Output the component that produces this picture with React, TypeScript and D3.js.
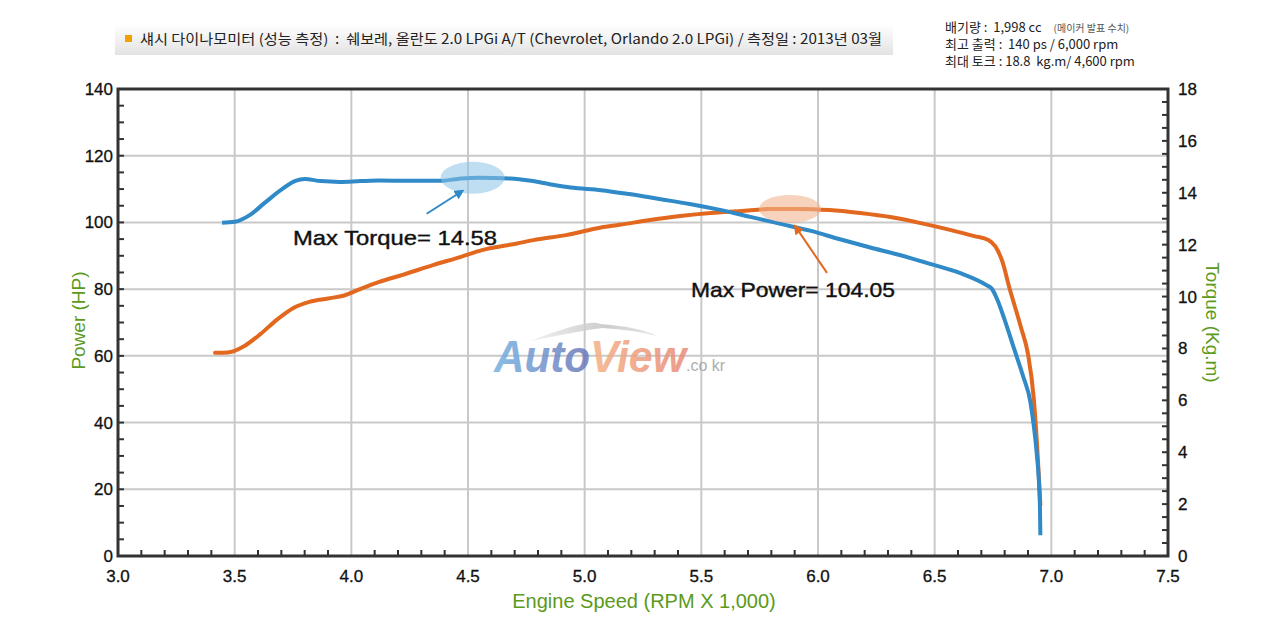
import * as d3 from "d3";

// engine speed (x1000 rpm) and torque (kg.m) — blue, right axis
const torqueRpm = [3.446, 3.5, 3.566, 3.63, 3.7, 3.76, 3.8, 3.87, 3.95, 4.04, 4.12, 4.25, 4.38, 4.47, 4.55, 4.68, 4.77, 4.85, 4.94, 5.07, 5.19, 5.32, 5.45, 5.58, 5.71, 5.84, 5.97, 6.09, 6.22, 6.35, 6.48, 6.61, 6.72, 6.745, 6.77, 6.8, 6.84, 6.88, 6.91, 6.925, 6.937, 6.951, 6.953];
const torqueKgm = [12.84, 12.88, 13.15, 13.62, 14.12, 14.46, 14.53, 14.45, 14.42, 14.45, 14.47, 14.46, 14.46, 14.55, 14.58, 14.55, 14.46, 14.33, 14.2, 14.1, 13.95, 13.76, 13.57, 13.34, 13.07, 12.8, 12.53, 12.22, 11.9, 11.6, 11.26, 10.9, 10.45, 10.3, 9.85, 9.1, 8.0, 6.9, 5.95, 5.0, 4.0, 2.0, 0.8];

// engine speed and power (HP) — orange, left axis
const powerRpm = [3.416, 3.47, 3.54, 3.61, 3.68, 3.75, 3.82, 3.9, 3.97, 4.04, 4.12, 4.22, 4.35, 4.47, 4.56, 4.71, 4.78, 4.92, 5.07, 5.15, 5.28, 5.41, 5.54, 5.67, 5.79, 5.92, 6.05, 6.18, 6.31, 6.44, 6.57, 6.67, 6.73, 6.76, 6.79, 6.82, 6.87, 6.9, 6.925, 6.94, 6.953];
const powerHp = [60.9, 61.0, 62.9, 66.5, 70.8, 74.3, 76.2, 77.2, 78.1, 80.1, 82.2, 84.3, 87.2, 89.7, 91.7, 93.7, 94.7, 96.2, 98.5, 99.3, 100.7, 101.9, 102.8, 103.4, 104.0, 104.05, 103.7, 102.8, 101.6, 99.8, 97.7, 95.9, 94.7, 92.8, 88.3, 80.5, 68.5, 60.5, 47.0, 32.0, 15.3];

const xTicks = [3.0, 3.5, 4.0, 4.5, 5.0, 5.5, 6.0, 6.5, 7.0, 7.5];
const leftTicks = [0, 20, 40, 60, 80, 100, 120, 140];
const rightTicks = [0, 2, 4, 6, 8, 10, 12, 14, 16, 18];

const maxTorque = { rpm: 4.52, value: 14.58, label: "Max Torque= 14.58" };
const maxPower = { rpm: 5.88, value: 104.05, label: "Max Power= 104.05" };

const title = "섀시 다이나모미터 (성능 측정)  :  쉐보레, 올란도 2.0 LPGi A/T (Chevrolet, Orlando 2.0 LPGi) / 측정일 : 2013년 03월";
const specs = ["배기량 :  1,998 cc", "최고 출력 :  140 ps / 6,000 rpm", "최대 토크 : 18.8  kg.m/ 4,600 rpm"];

const W = 1280;
const H = 630;
const m = { left: 118, right: 1168, top: 89, bottom: 556 };

const BLUE = "#2f8ac7";
const ORANGE = "#e2681f";
const GREEN = "#5b9a1b";
const AXIS = "#333";
const GRID = "#c9c9c9";
const FONT = "'Liberation Sans', Arial, sans-serif";
const KFONT = "'Noto Sans CJK KR', sans-serif";

export default function App() {
  const x = d3.scaleLinear().domain([3, 7.5]).range([m.left, m.right]);
  const yL = d3.scaleLinear().domain([0, 140]).range([m.bottom, m.top]);
  const yR = d3.scaleLinear().domain([0, 18]).range([m.bottom, m.top]);

  const torqueLine = d3
    .line<number>()
    .curve(d3.curveMonotoneX)
    .x((_, i) => x(torqueRpm[i]))
    .y((d) => yR(d));
  const powerLine = d3
    .line<number>()
    .curve(d3.curveMonotoneX)
    .x((_, i) => x(powerRpm[i]))
    .y((d) => yL(d));

  const xMinor = d3.range(31, 75).map((d) => d / 10).filter((d) => Math.abs(d * 2 - Math.round(d * 2)) > 1e-6);
  const leftMinor = d3.range(5, 140, 5);
  const rightMinor = d3.range(1, 36).map((d) => d / 2);

  const tx = x(maxTorque.rpm);
  const ty = yR(maxTorque.value);
  const px = x(maxPower.rpm);
  const py = yL(maxPower.value);

  return (
    <div style={{ position: "absolute", left: 0, top: 0 }}>
      <svg width={W} height={H} style={{ display: "block", background: "#fff" }}>
        <defs>
          <linearGradient id="hdr" x1="0" y1="0" x2="0" y2="1">
            <stop offset="0" stopColor="#ffffff" />
            <stop offset="1" stopColor="#e3e3e3" />
          </linearGradient>
          <linearGradient id="autoG" x1="0" y1="0" x2="1" y2="0">
            <stop offset="0" stopColor="#74b3e2" />
            <stop offset="1" stopColor="#6c76b8" />
          </linearGradient>
          <linearGradient id="viewG" x1="0" y1="0" x2="1" y2="0">
            <stop offset="0" stopColor="#f4b184" />
            <stop offset="1" stopColor="#e88a78" />
          </linearGradient>
          <linearGradient id="swG" x1="0" y1="0" x2="1" y2="0">
            <stop offset="0" stopColor="#f0f0f0" />
            <stop offset="0.6" stopColor="#c4c4c4" />
            <stop offset="1" stopColor="#e4e4e4" />
          </linearGradient>
          <marker id="arB" viewBox="0 0 10 10" refX="8" refY="5" markerWidth="5" markerHeight="5" orient="auto">
            <path d="M0,0 L10,5 L0,10 z" fill={BLUE} />
          </marker>
          <marker id="arO" viewBox="0 0 10 10" refX="8" refY="5" markerWidth="5" markerHeight="5" orient="auto">
            <path d="M0,0 L10,5 L0,10 z" fill={ORANGE} />
          </marker>
        </defs>

        {/* header */}
        <rect x={115} y={24} width={778} height={31} fill="url(#hdr)" />
        <rect x={125} y={35} width={7} height={7} fill="#f2a100" />
        <text x={140} y={44} fontFamily={KFONT} fontSize={14} fill="#222" textLength={742} lengthAdjust="spacingAndGlyphs" xmlSpace="preserve">
          {title}
        </text>
        {specs.map((s, i) => (
          <text key={s} x={945} y={32 + i * 17} fontFamily={KFONT} fontSize={13} fill="#222" xmlSpace="preserve">
            {s}
            {i === 0 && (
              <tspan dx={12} fontSize={10} fill="#555">
                (메이커 발표 수치)
              </tspan>
            )}
          </text>
        ))}

        {/* grid */}
        {xTicks.slice(1, -1).map((t) => (
          <line key={"gx" + t} x1={x(t)} x2={x(t)} y1={m.top} y2={m.bottom} stroke={GRID} strokeWidth={2} />
        ))}
        {leftTicks.slice(1, -1).map((t) => (
          <line key={"gy" + t} x1={m.left} x2={m.right} y1={yL(t)} y2={yL(t)} stroke={GRID} strokeWidth={2} />
        ))}

        {/* watermark */}
        <g opacity={0.85}>
          <path d="M 530 341 Q 590 318 600 324 Q 640 327 657 336 Q 635 330 602 328 Q 585 330 530 341 Z" fill="url(#swG)" />
          <text x={494} y={372} fontFamily={FONT} fontWeight="bold" fontStyle="italic" fontSize={44} fill="url(#autoG)" textLength={96} lengthAdjust="spacingAndGlyphs">
            Auto
          </text>
          <text x={590} y={372} fontFamily={FONT} fontWeight="bold" fontStyle="italic" fontSize={44} fill="url(#viewG)" textLength={96} lengthAdjust="spacingAndGlyphs">
            View
          </text>
          <text x={686} y={371} fontFamily={FONT} fontSize={16} fill="#a0a0a0">
            .co kr
          </text>
        </g>

        {/* series */}
        <path d={powerLine(powerHp)!} fill="none" stroke={ORANGE} strokeWidth={4} strokeLinejoin="round" strokeLinecap="round" />
        <path d={torqueLine(torqueKgm)!} fill="none" stroke={BLUE} strokeWidth={4} strokeLinejoin="round" />

        {/* annotations */}
        <ellipse cx={tx} cy={ty} rx={32} ry={16} fill="#8cc3e8" fillOpacity={0.55} />
        <line x1={tx - 46} y1={ty + 36} x2={tx - 10} y2={ty + 13} stroke={BLUE} strokeWidth={2} markerEnd="url(#arB)" />
        <text x={293} y={245} fontFamily={FONT} fontSize={21} fontWeight={500} fill="#111" textLength={204} lengthAdjust="spacingAndGlyphs" stroke="#111" strokeWidth={0.4}>
          {maxTorque.label}
        </text>
        <ellipse cx={px} cy={py} rx={31} ry={14} fill="#f2b591" fillOpacity={0.6} />
        <line x1={px + 37} y1={py + 64} x2={px + 5} y2={py + 17} stroke={ORANGE} strokeWidth={2} markerEnd="url(#arO)" />
        <text x={691} y={297} fontFamily={FONT} fontSize={21} fontWeight={500} fill="#111" textLength={204} lengthAdjust="spacingAndGlyphs" stroke="#111" strokeWidth={0.4}>
          {maxPower.label}
        </text>

        {/* ticks */}
        {xMinor.map((t) => (
          <line key={"xt" + t} x1={x(t)} x2={x(t)} y1={m.bottom} y2={m.bottom - 6} stroke={AXIS} strokeWidth={2} />
        ))}
        {leftMinor.map((t) => (
          <line key={"lt" + t} x1={m.left} x2={m.left + 6} y1={yL(t)} y2={yL(t)} stroke={AXIS} strokeWidth={2} />
        ))}
        {rightMinor.map((t) => (
          <line key={"rt" + t} x1={m.right} x2={m.right - 6} y1={yR(t)} y2={yR(t)} stroke={AXIS} strokeWidth={2} />
        ))}

        {/* frame */}
        <rect x={m.left} y={m.top} width={m.right - m.left} height={m.bottom - m.top} fill="none" stroke={AXIS} strokeWidth={3} />

        {/* tick labels */}
        {xTicks.map((t) => (
          <text key={"xl" + t} x={x(t)} y={582} textAnchor="middle" fontFamily={FONT} fontSize={17} fill="#111" stroke="#111" strokeWidth={0.3}>
            {t.toFixed(1)}
          </text>
        ))}
        {leftTicks.map((t) => (
          <text key={"ll" + t} x={113} y={yL(t) + 6} textAnchor="end" fontFamily={FONT} fontSize={17} fill="#111" stroke="#111" strokeWidth={0.3}>
            {t}
          </text>
        ))}
        {rightTicks.map((t) => (
          <text key={"rl" + t} x={1178} y={yR(t) + 6} textAnchor="start" fontFamily={FONT} fontSize={17} fill="#111" stroke="#111" strokeWidth={0.3}>
            {t}
          </text>
        ))}

        {/* axis titles */}
        <text transform={`translate(85,${(m.top + m.bottom) / 2 - 2}) rotate(-90)`} textAnchor="middle" fontFamily={FONT} fontSize={19} fill={GREEN}>
          Power (HP)
        </text>
        <text transform={`translate(1206,${(m.top + m.bottom) / 2}) rotate(90)`} textAnchor="middle" fontFamily={FONT} fontSize={19} fill={GREEN}>
          Torque (Kg.m)
        </text>
        <text x={644} y={608} textAnchor="middle" fontFamily={FONT} fontSize={20} fill={GREEN}>
          Engine Speed (RPM X 1,000)
        </text>
      </svg>
    </div>
  );
}
